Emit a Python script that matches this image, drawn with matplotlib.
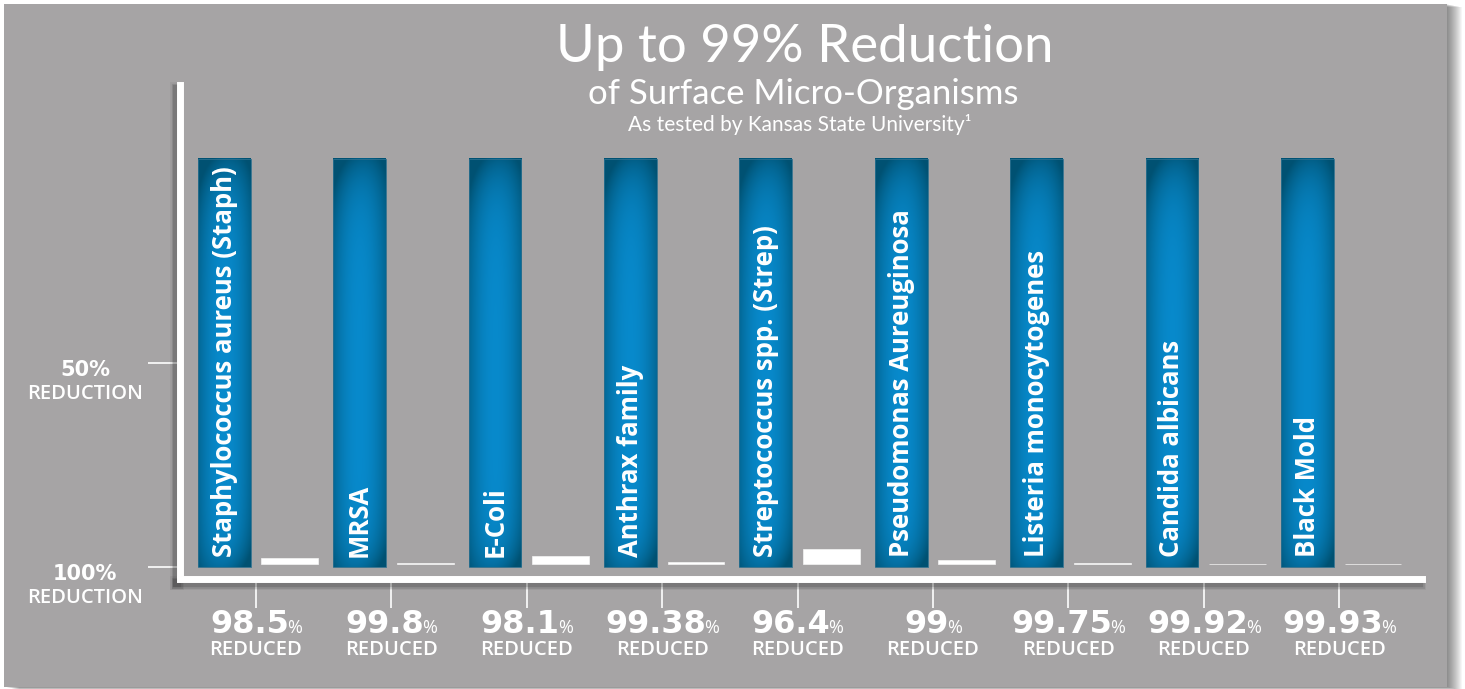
import numpy as np
import matplotlib
matplotlib.use("Agg")
import matplotlib.pyplot as plt
from matplotlib.patches import Rectangle
import matplotlib.patheffects as pe

# ---------------- data ----------------
organisms = ["Staphylococcus aureus (Staph)", "MRSA", "E-Coli", "Anthrax family",
             "Streptococcus spp. (Strep)", "Pseudomonas Aureuginosa",
             "Listeria monocytogenes", "Candida albicans", "Black Mold"]
reduced_pct = [98.5, 99.8, 98.1, 99.38, 96.4, 99, 99.75, 99.92, 99.93]
value_labels = ["98.5", "99.8", "98.1", "99.38", "96.4", "99", "99.75", "99.92", "99.93"]
initial_pct = [100] * len(organisms)
remaining_pct = [round(100 - r, 2) for r in reduced_pct]
ytick_values = [0, 50]
ytick_top = ["100%", "50%"]
ytick_bottom = ["REDUCTION", "REDUCTION"]
title = "Up to 99% Reduction"
subtitle = "of Surface Micro-Organisms"
note = "As tested by Kansas State University\u00b9"

# ---------------- style ----------------
W, H = 1465, 689
GRAY = "#a6a4a5"
WHITE = "#ffffff"


def fx(px):
    return px / W


def fy(py):
    return 1 - py / H


fig = plt.figure(figsize=(W / 100, H / 100), dpi=100, facecolor="white")

# panel with soft shadow on the right/bottom
for k in range(1, 16):
    fig.add_artist(Rectangle((fx(4 + k), fy(687 + k * 0.2)), fx(1447) - fx(4), fy(4) - fy(687),
                             transform=fig.transFigure, facecolor="black",
                             alpha=0.035, edgecolor="none", zorder=-3))
fig.add_artist(Rectangle((fx(4), fy(687)), fx(1447) - fx(4), fy(4) - fy(687),
                         transform=fig.transFigure, facecolor=GRAY, edgecolor="none", zorder=-2))

ax = fig.add_axes([fx(180), fy(579), fx(1422) - fx(180), fy(85) - fy(579)])
ax.set_facecolor("none")

n = len(organisms)
x = np.arange(n)
blue_bars = ax.bar(x - 0.235, initial_pct, width=0.39, color="none",
                   edgecolor="#2b6f8e", linewidth=0.6, zorder=3)
white_bars = ax.bar(x + 0.25, remaining_pct, width=0.42, bottom=0.7,
                    color=WHITE, edgecolor="#f4f4f4", linewidth=0.5, zorder=3)

# gradient fill for the blue bars
u = np.linspace(0, 1, 80)
v = np.linspace(0, 1, 400)
U, V = np.meshgrid(u, v)
hx = np.abs(U - 0.5) * 2
d = (0.6 * hx ** 2 + 1.0 * np.exp(-(1 - V) / 0.085) * (1 - 0.4 * U)
     + 0.75 * np.exp(-V / 0.055) * (0.4 + 0.6 * U))
d = np.clip(d, 0, 1)[..., None]
bright = np.array([0.03, 0.54, 0.80])
dark = np.array([0.0, 0.32, 0.45])
grad = bright * (1 - d) + dark * d

for p in blue_bars:
    x0, w = p.get_x(), p.get_width()
    y0, h = p.get_y(), p.get_height()
    ax.imshow(grad, extent=(x0, x0 + w, y0, y0 + h), aspect="auto", origin="lower",
              interpolation="bilinear", zorder=2)

for p, name in zip(blue_bars, organisms):
    ax.text(p.get_x() + p.get_width() / 2, 2.45, name, rotation=90, ha="center", va="bottom",
            color="white", fontsize=18.5, fontfamily="Open Sans", fontweight="bold", zorder=5)

ax.set_xlim(-0.561, 8.612)
ax.set_ylim(-2.94, 118.1)

# spines with shadow
shadow = [pe.Stroke(offset=(-2.5, -3), linewidth=w_, foreground="#303030", alpha=a_)
          for w_, a_ in [(10, 0.07), (8, 0.13), (6, 0.22)]] + [pe.Normal()]
for s in ["top", "right"]:
    ax.spines[s].set_visible(False)
for s in ["left", "bottom"]:
    ax.spines[s].set_color(WHITE)
    ax.spines[s].set_linewidth(5)
    ax.spines[s].set_capstyle("projecting")
    ax.spines[s].set_path_effects(shadow)
    ax.spines[s].set_zorder(4)

ax.set_yticks(ytick_values)
ax.set_xticks(x)
ax.tick_params(axis="y", direction="out", length=23, width=1.4, color="#f2f2f2", labelleft=False)
ax.tick_params(axis="x", direction="out", length=21, width=1.4, color="#f2f2f2", labelbottom=False)

# y labels
yt = ax.get_yaxis_transform()
for yv, top, bot in zip(ytick_values, ytick_top, ytick_bottom):
    ax.annotate(top, xy=(-0.0765, yv), xycoords=yt, xytext=(0, -13), textcoords="offset pixels",
                ha="center", va="baseline", color="white", fontsize=15,
                fontfamily="DejaVu Sans", fontweight="bold", annotation_clip=False)
    ax.annotate(bot, xy=(-0.0765, yv), xycoords=yt, xytext=(0, -36), textcoords="offset pixels",
                ha="center", va="baseline", color="white", fontsize=14.5,
                fontfamily="Open Sans", fontweight="semibold", annotation_clip=False)

# x labels
xt = ax.get_xaxis_transform()
nums, pcts = [], []
for xi, lab in zip(x, value_labels):
    tn = ax.annotate(lab, xy=(xi, 0), xycoords=xt, xytext=(0, -54), textcoords="offset pixels",
                     ha="left", va="baseline", color="white", fontsize=23,
                     fontfamily="DejaVu Sans", fontweight="bold", annotation_clip=False)
    tp = ax.annotate("%", xy=(xi, 0), xycoords=xt, xytext=(0, -54), textcoords="offset pixels",
                     ha="left", va="baseline", color="white", fontsize=13,
                     fontfamily="Open Sans", annotation_clip=False)
    ax.annotate("REDUCED", xy=(xi, 0), xycoords=xt, xytext=(0, -76), textcoords="offset pixels",
                ha="center", va="baseline", color="white", fontsize=14.5,
                fontfamily="Open Sans", fontweight="semibold", annotation_clip=False)
    nums.append(tn)
    pcts.append(tp)

fig.canvas.draw()
for tn, tp in zip(nums, pcts):
    wn = tn.get_window_extent().width
    wp = tp.get_window_extent().width
    total = wn + wp - 2
    tn.xyann = (-total / 2, -54)
    tp.xyann = (-total / 2 + wn - 2, -54)

# titles
fig.text(fx(805), fy(62), title, ha="center", va="baseline", color="white",
         fontsize=38, fontfamily="Lato")
fig.text(fx(803), fy(104), subtitle, ha="center", va="baseline", color="white",
         fontsize=25, fontfamily="Lato")
fig.text(fx(800), fy(131), note, ha="center", va="baseline", color="white",
         fontsize=15, fontfamily="Lato")

fig.savefig("out.png", dpi=100, facecolor="white")
